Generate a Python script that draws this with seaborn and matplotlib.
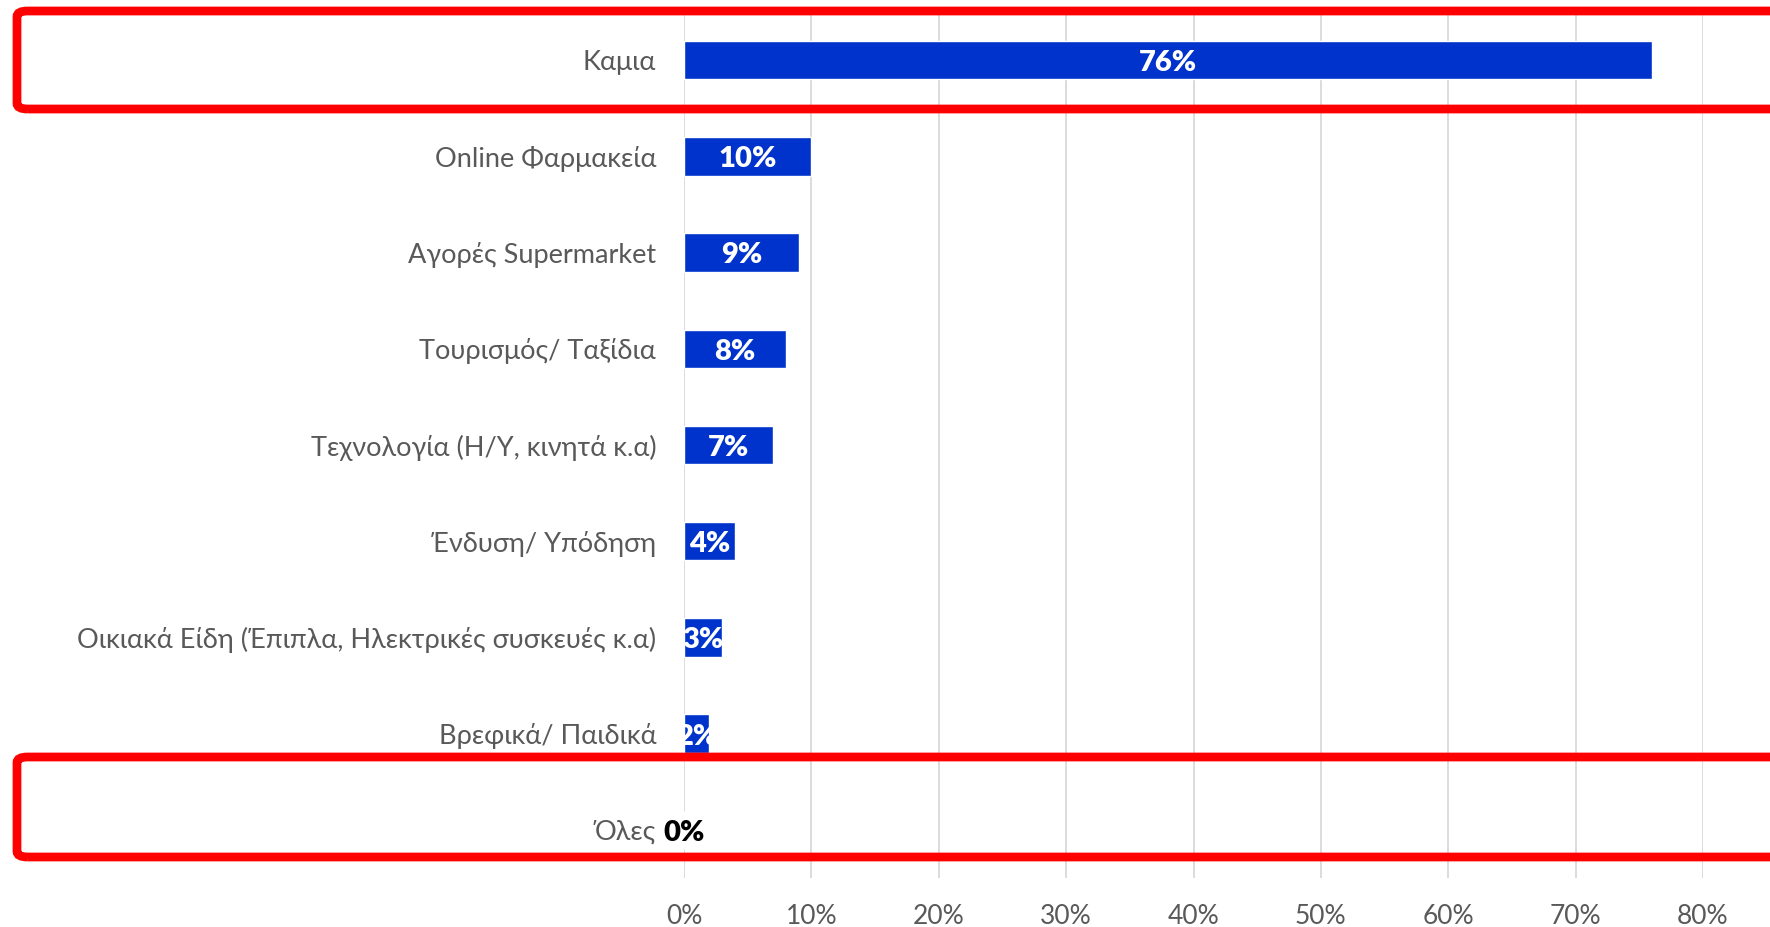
import numpy as np
import pandas as pd
import matplotlib
matplotlib.use('Agg')
import matplotlib.pyplot as plt
import seaborn as sns
from matplotlib.patches import FancyBboxPatch

categories = ['Καμια', 'Online Φαρμακεία', 'Αγορές Supermarket', 'Τουρισμός/ Ταξίδια',
              'Τεχνολογία (Η/Υ, κινητά κ.α)', 'Ένδυση/ Υπόδηση',
              'Οικιακά Είδη (Έπιπλα, Ηλεκτρικές συσκευές κ.α)', 'Βρεφικά/ Παιδικά', 'Όλες']
values = [0.76, 0.10, 0.09, 0.08, 0.07, 0.04, 0.03, 0.02, 0.00]
x_ticks = [0, 0.1, 0.2, 0.3, 0.4, 0.5, 0.6, 0.7, 0.8]

BAR_COLOR = '#0033CC'
GREY = '#595959'

sns.set_theme(style='white')
plt.rcParams['font.family'] = ['Lato', 'DejaVu Sans']

df = pd.DataFrame({'category': categories, 'value': values})

fig = plt.figure(figsize=(17.7, 9.27), dpi=100)
ax = fig.add_axes([684 / 1770, 1 - 878 / 927, (1703 - 684) / 1770, (878 - 12) / 927])

sns.barplot(data=df, x='value', y='category', orient='h', color=BAR_COLOR,
            saturation=1, width=0.4, ax=ax, zorder=2)

ax.set_xlim(0, 0.8)
ax.set_xticks(x_ticks)
ax.set_xticklabels([f'{int(round(t * 100))}%' for t in x_ticks])
ax.set_xlabel('')
ax.set_ylabel('')
ax.grid(axis='x', color='#d9d9d9', lw=1.3, zorder=0)
ax.grid(axis='y', visible=False)
for s in ax.spines.values():
    s.set_visible(False)
ax.tick_params(axis='x', length=0, pad=19, labelsize=19, labelcolor=GREY)
ax.tick_params(axis='y', length=0, pad=20, labelsize=19.5, labelcolor=GREY)

# value labels centred on each bar
for i, v in enumerate(values):
    col = 'white' if v > 0 else 'black'
    ax.text(v / 2, i + 0.03, f'{int(round(v * 100))}%', ha='center', va='center',
            color=col, fontsize=21, fontweight='heavy', zorder=3)

# red highlight frames (pixel rows of the reference frames)
frames = [(11, 109), (757, 857)]
for top, bot in frames:
    box = FancyBboxPatch((17 / 1770, 1 - bot / 927), 1.1, (bot - top) / 927,
                         transform=fig.transFigure,
                         boxstyle='round,pad=0,rounding_size=0.006',
                         fill=False, edgecolor='#FF0000', lw=6.3, zorder=5,
                         clip_on=False)
    fig.patches.append(box)

fig.savefig('out.png', dpi=100)
